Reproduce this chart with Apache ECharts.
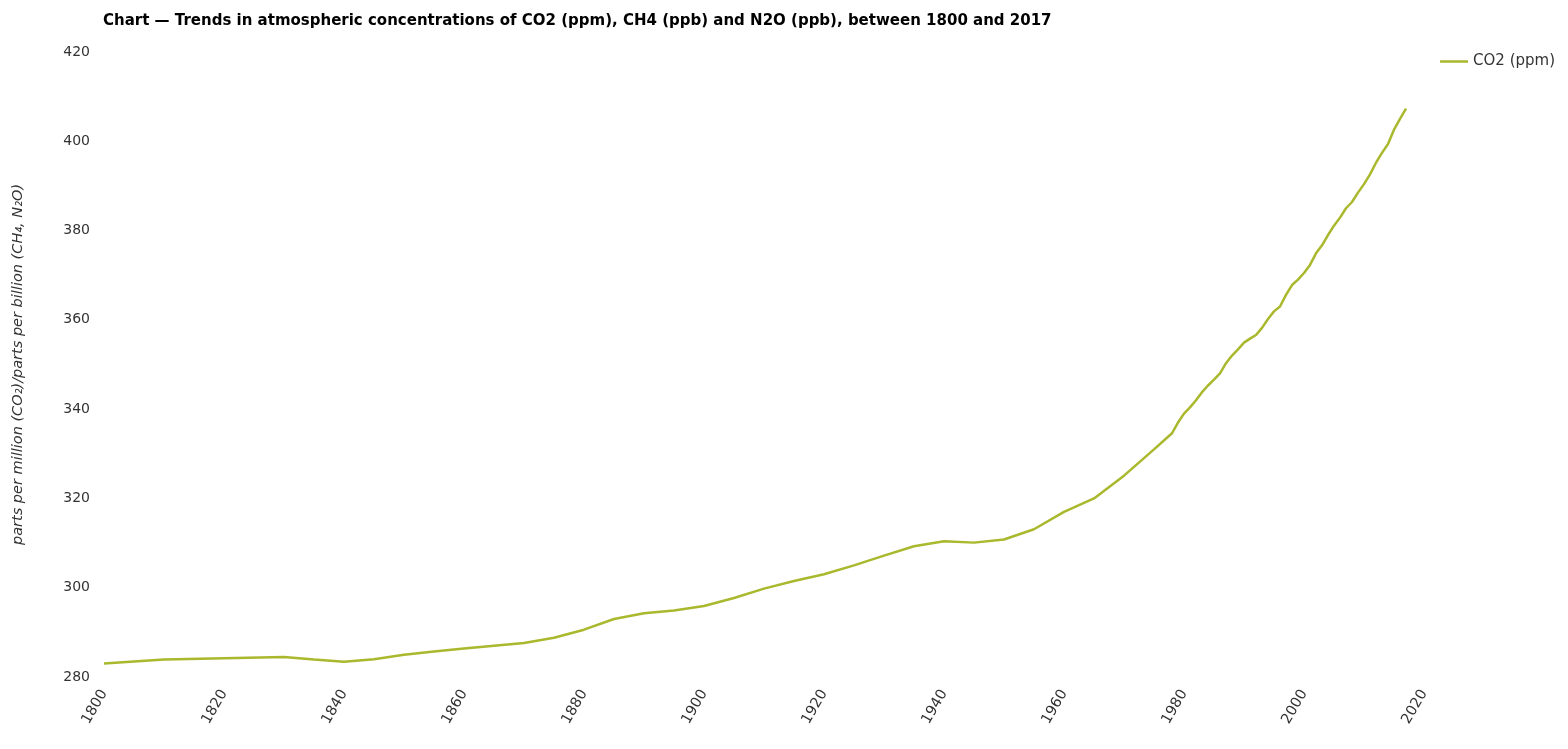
<!DOCTYPE html>
<html>
<head>
<meta charset="utf-8">
<script src="https://cdn.jsdelivr.net/npm/echarts@6/dist/echarts.min.js"></script>
<style>
html,body{margin:0;padding:0;background:#fff;}
#chart{width:1568px;height:749px;}
</style>
</head>
<body>
<div id="chart"></div>
<script>
const titleText = 'Chart \u2014 Trends in atmospheric concentrations of CO2 (ppm), CH4 (ppb) and N2O (ppb), between 1800 and 2017';
const yAxisName = 'parts per million (CO\u2082)/parts per billion (CH\u2084, N\u2082O)';
const seriesName = 'CO2 (ppm)';

const years = [1800,1810,1820,1830,1835,1840,1845,1850,1855,1860,1865,1870,1875,1880,1885,1890,1895,1900,1905,1910,1915,1920,1925,1930,1935,1940,1945,1950,1955,1960,1965,1970,1975,
  1978,1979,1980,1981,1982,1983,1984,1985,1986,1987,1988,1989,1990,1991,1992,1993,1994,1995,1996,1997,1998,1999,2000,2001,2002,2003,2004,2005,2006,2007,2008,2009,2010,2011,2012,2013,2014,2015,2016,2017];
const co2 = [283.0,283.9,284.2,284.5,283.9,283.4,284.0,285.0,285.7,286.4,287.0,287.6,288.8,290.6,293.0,294.3,294.9,295.9,297.7,299.8,301.5,303.0,305.0,307.2,309.3,310.4,310.1,310.8,313.1,317.0,320.0,325.1,331.0,
  334.6,337.0,339.0,340.4,342.0,343.8,345.3,346.6,348.0,350.3,352.0,353.4,354.9,355.8,356.6,358.2,360.2,361.9,363.0,365.6,367.8,369.0,370.5,372.3,374.9,376.7,379.0,381.1,382.9,385.0,386.4,388.5,390.4,392.6,395.2,397.4,399.4,402.6,405.0,407.3];

const data = years.map((y, i) => [y, co2[i]]);
const lineColor = '#a9b82c';

const chart = echarts.init(document.getElementById('chart'));
chart.setOption({
  animation: false,
  backgroundColor: '#ffffff',
  title: {
    text: titleText,
    left: 98,
    top: 9,
    textStyle: {fontFamily: 'DejaVu Sans', fontWeight: 'bold', fontSize: 15, color: '#000'}
  },
  legend: {
    right: 8,
    top: 49,
    icon: 'rect',
    itemWidth: 28,
    itemHeight: 2.5,
    itemGap: 8,
    textStyle: {fontFamily: 'DejaVu Sans', fontSize: 15, color: '#333'},
    data: [seriesName]
  },
  grid: {left: 104, right: 144, top: 52, bottom: 72, containLabel: false},
  xAxis: {
    type: 'value',
    min: 1800,
    max: 2020,
    interval: 20,
    axisLine: {show: false},
    axisTick: {show: false},
    splitLine: {show: false},
    axisLabel: {rotate: 60, margin: 14, fontFamily: 'DejaVu Sans', fontSize: 14.5, color: '#333', formatter: v => String(v)}
  },
  yAxis: {
    type: 'value',
    min: 280,
    max: 420,
    interval: 20,
    name: yAxisName,
    nameLocation: 'middle',
    nameGap: 78,
    nameTextStyle: {fontFamily: 'DejaVu Sans', fontStyle: 'italic', fontSize: 14.5, color: '#333'},
    axisLine: {show: false},
    axisTick: {show: false},
    splitLine: {show: false},
    axisLabel: {margin: 14, fontFamily: 'DejaVu Sans', fontSize: 14, color: '#333'}
  },
  series: [{
    name: seriesName,
    type: 'line',
    data: data,
    showSymbol: false,
    smooth: false,
    lineStyle: {color: lineColor, width: 2.5},
    itemStyle: {color: lineColor}
  }]
});
</script>
</body>
</html>
